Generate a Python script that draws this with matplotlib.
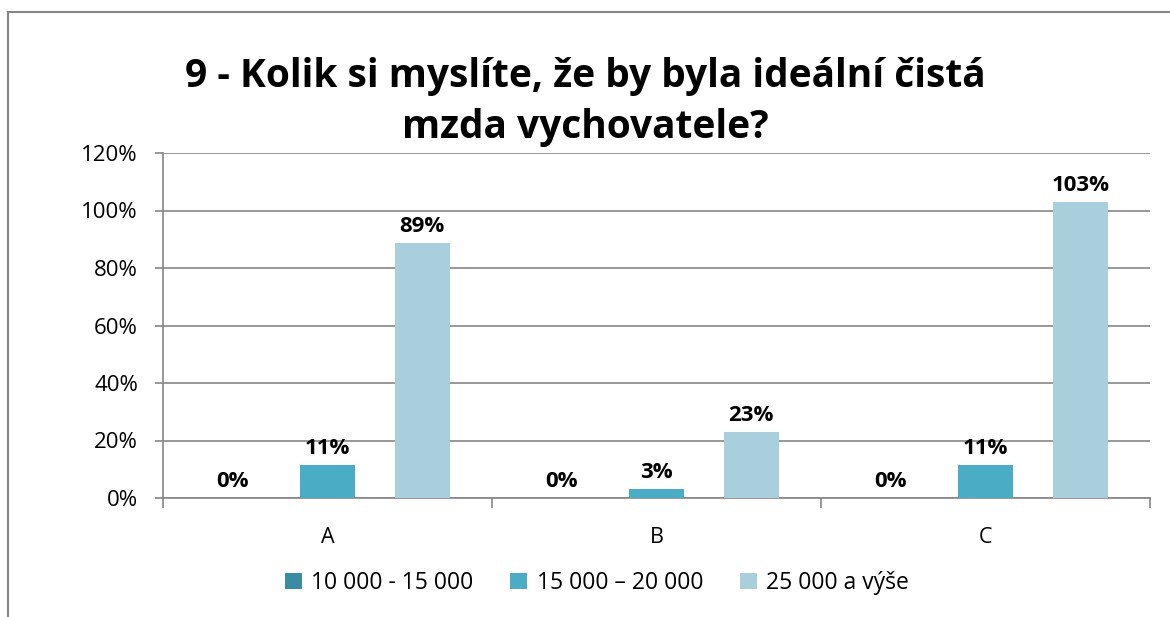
import matplotlib.pyplot as plt
from matplotlib.patches import Rectangle
from matplotlib.ticker import PercentFormatter
import numpy as np

categories = ['A', 'B', 'C']
series_names = ['10 000 - 15 000', '15 000 – 20 000', '25 000 a výše']
series_values = [
    [0.0, 0.0, 0.0],
    [0.114, 0.03, 0.114],
    [0.886, 0.229, 1.029],
]
series_labels = [
    ['0%', '0%', '0%'],
    ['11%', '3%', '11%'],
    ['89%', '23%', '103%'],
]
colors = ['#3A8CA3', '#4BACC6', '#A9CFDD']

plt.rcParams['font.family'] = ['Open Sans', 'DejaVu Sans']

fig = plt.figure(figsize=(11.7, 6.17), dpi=100)
ax = fig.add_axes([163 / 1170, 119 / 617, 987 / 1170, 345 / 617])

# outer chart frame (only top and left edge are visible in the crop)
fig.patches.append(Rectangle((8 / 1170, -0.1), 1.2, (617 - 12) / 617 + 0.1,
                             transform=fig.transFigure, fill=False,
                             edgecolor='#868686', linewidth=1.5))

x = np.arange(len(categories))
offsets = [-0.288, 0.0, 0.288]
width = 0.167
for vals, labs, off, col, name in zip(series_values, series_labels, offsets, colors, series_names):
    bars = ax.bar(x + off, vals, width, color=col, label=name, zorder=3)
    for b, lab in zip(bars, labs):
        ax.text(b.get_x() + b.get_width() / 2, b.get_height() + 0.022, lab,
                ha='center', va='bottom', fontsize=16, fontweight='bold')

ax.set_xlim(-0.5, 2.5)
ax.set_ylim(0, 1.2)
ax.set_yticks(np.arange(0, 1.21, 0.2))
ax.yaxis.set_major_formatter(PercentFormatter(1.0, decimals=0))
ax.grid(axis='y', color='#868686', linewidth=1.2, zorder=0)
ax.set_axisbelow(True)

ax.set_xticks(x)
ax.set_xticklabels(categories)
ax.set_xticks([-0.5, 0.5, 1.5, 2.5], minor=True)
ax.tick_params(axis='x', which='major', length=0, pad=21, labelsize=15.5)
ax.tick_params(axis='x', which='minor', length=7, width=1.2, color='#868686')
ax.tick_params(axis='y', length=6, width=1.2, color='#868686', labelsize=16, pad=12)

for s in ['top', 'right']:
    ax.spines[s].set_visible(False)
for s in ['left', 'bottom']:
    ax.spines[s].set_color('#868686')
    ax.spines[s].set_linewidth(1.2)

fig.text(585 / 1170, 1 - 102 / 617, '9 - Kolik si myslíte, že by byla ideální čistá\nmzda vychovatele?',
         ha='center', va='center', fontsize=28, fontweight='bold', linespacing=1.4)

handles, labels = ax.get_legend_handles_labels()
fig.legend(handles, labels, loc='center', bbox_to_anchor=(597 / 1170, 1 - 583 / 617),
           ncol=3, frameon=False, fontsize=16.5, handlelength=0.75, handleheight=0.75,
           handletextpad=0.4, columnspacing=1.6)

fig.savefig('out.png', dpi=100)
